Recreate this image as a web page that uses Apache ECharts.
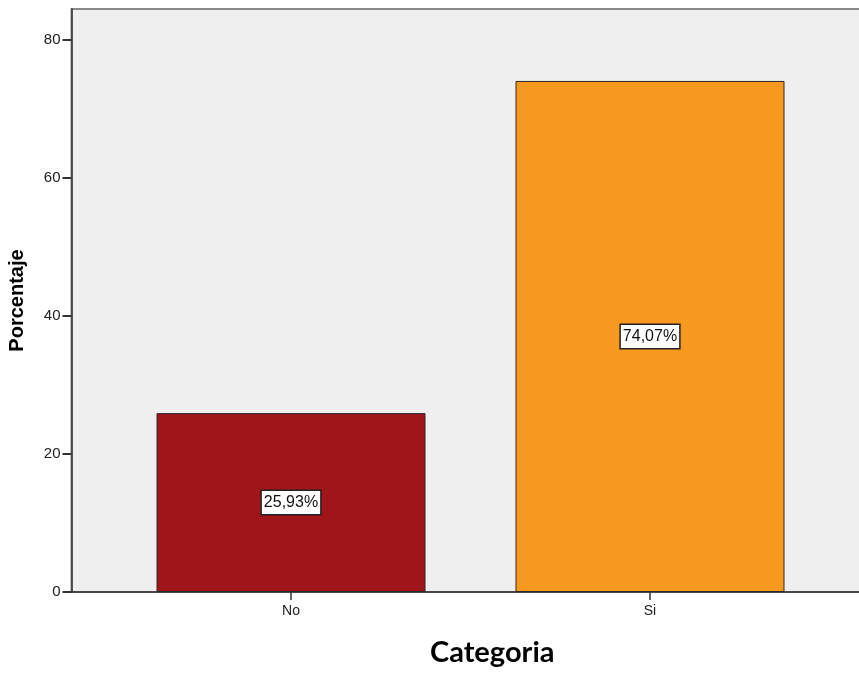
<!DOCTYPE html>
<html><head><meta charset="utf-8">
<script src="https://cdn.jsdelivr.net/npm/echarts@6/dist/echarts.min.js"></script>
<style>html,body{margin:0;padding:0;background:#fff}#c{width:859px;height:675px}</style>
</head><body><div id="c"></div>
<script>
const categories = ['No', 'Si'];
const values = [25.93, 74.07];
const barColors = ['#a0151a', '#f7991f'];
const yTicks = [0, 20, 40, 60, 80];

const chart = echarts.init(document.getElementById('c'), null, {renderer: 'canvas'});
const font = 'Liberation Sans';
chart.setOption({
  animation: false,
  grid: [
    {left: 71.5, top: 9, width: 810, bottom: 83, show: true, backgroundColor: '#efefef', borderColor: '#8a8a8a', borderWidth: 2, outerBoundsMode: 'none', containLabel: false},
    {left: 111.5, top: 9, width: 718, bottom: 83, outerBoundsMode: 'none', containLabel: false}
  ],
  xAxis: [
    {gridIndex: 0, type: 'value', min: 0, max: 1, axisLine: {show: true, onZero: false, lineStyle: {color: '#333', width: 1.5}}, axisTick: {show: false}, axisLabel: {show: false}, splitLine: {show: false}},
    {gridIndex: 1, type: 'category', data: categories, axisLine: {show: false}, axisTick: {show: true, alignWithLabel: true, length: 8, lineStyle: {color: '#333', width: 1.5}},
     axisLabel: {fontFamily: font, fontSize: 14, color: '#222', margin: 12}}
  ],
  yAxis: [
    {gridIndex: 0, type: 'value', min: 0, max: 84.5,
     axisLine: {show: true, lineStyle: {color: '#333', width: 1.5}},
     axisTick: {show: true, length: 9, lineStyle: {color: '#333', width: 2}, customValues: yTicks},
     axisLabel: {fontFamily: font, fontSize: 15, color: '#222', margin: 11, customValues: yTicks},
     splitLine: {show: false},
     name: 'Porcentaje', nameLocation: 'middle', nameGap: 44, nameRotate: 90,
     nameTextStyle: {fontFamily: font, fontSize: 20, fontWeight: 'bold', color: '#000'}},
    {gridIndex: 1, type: 'value', min: 0, max: 84.5, show: false}
  ],
  series: [{
    type: 'bar', xAxisIndex: 1, yAxisIndex: 1, barWidth: 269,
    data: values.map((v, i) => ({value: v, itemStyle: {color: barColors[i]}})),
    itemStyle: {borderColor: '#2a2a2a', borderWidth: 1},
    label: {show: true, position: 'inside', formatter: p => p.value.toFixed(2).replace('.', ',') + '%',
      fontFamily: font, fontSize: 16, color: '#111', backgroundColor: '#fff', borderColor: '#222', borderWidth: 1.5,
      padding: [4, 2, 3, 2]}
  }],
  graphic: [{type: 'text', left: 430, top: 638, style: {text: 'Categoria', font: 'bold 29px Lato', fill: '#000'}}]
});
</script></body></html>
